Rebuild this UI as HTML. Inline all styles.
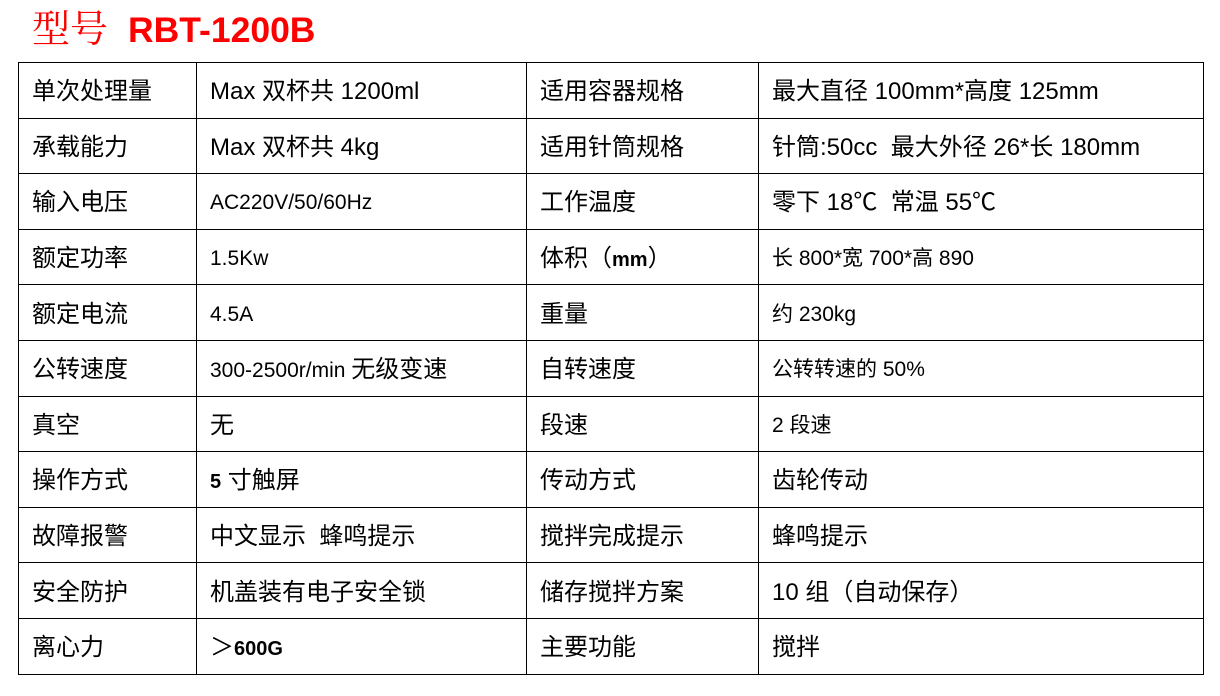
<!DOCTYPE html>
<html><head><meta charset="utf-8"><style>
body{margin:0;width:1220px;height:696px;background:#fff;position:relative;overflow:hidden;font-family:"Liberation Sans","Noto Sans CJK SC",sans-serif;}
.title{position:absolute;left:32px;top:3px;color:#f00;white-space:nowrap;line-height:46px;}
.title .a{font-family:"Noto Serif CJK SC",serif;font-size:38px;}
.title .b{font-weight:bold;font-size:35.5px;margin-left:20px;}
table{position:absolute;left:18px;top:62px;border-collapse:collapse;table-layout:fixed;}
tr{height:55.6px;}
td{border:1.5px solid #000;padding:4px 0 0 13px;font-size:24px;line-height:26px;color:#000;white-space:nowrap;overflow:hidden;vertical-align:middle;}
.s{font-size:21px;}
</style></head><body>
<div class="title"><span class="a">型号</span><span class="b">RBT-1200B</span></div>
<table>
<colgroup><col style="width:178px"><col style="width:330px"><col style="width:232px"><col style="width:445px"></colgroup>
<tr><td>单次处理量</td><td>Max 双杯共 1200ml</td><td>适用容器规格</td><td>最大直径 100mm*高度 125mm</td></tr>
<tr><td>承载能力</td><td>Max 双杯共 4kg</td><td>适用针筒规格</td><td>针筒:50cc&nbsp; 最大外径 26*长 180mm</td></tr>
<tr><td>输入电压</td><td class="s">AC220V/50/60Hz</td><td>工作温度</td><td>零下 18℃&nbsp; 常温 55℃</td></tr>
<tr><td>额定功率</td><td class="s">1.5Kw</td><td>体积（<b style="font-size:20px">mm</b>）</td><td class="s">长 800*宽 700*高 890</td></tr>
<tr><td>额定电流</td><td class="s">4.5A</td><td>重量</td><td class="s">约 230kg</td></tr>
<tr><td>公转速度</td><td class="s">300-2500r/min <span style="font-size:24px">无级变速</span></td><td>自转速度</td><td class="s">公转转速的 50%</td></tr>
<tr><td>真空</td><td>无</td><td>段速</td><td class="s">2 段速</td></tr>
<tr><td>操作方式</td><td><b style="font-size:20px">5</b> 寸触屏</td><td>传动方式</td><td>齿轮传动</td></tr>
<tr><td>故障报警</td><td>中文显示&nbsp; 蜂鸣提示</td><td>搅拌完成提示</td><td>蜂鸣提示</td></tr>
<tr><td>安全防护</td><td>机盖装有电子安全锁</td><td>储存搅拌方案</td><td>10 组（自动保存）</td></tr>
<tr><td>离心力</td><td>＞<b style="font-size:20px">600G</b></td><td>主要功能</td><td>搅拌</td></tr>
</table>
</body></html>
